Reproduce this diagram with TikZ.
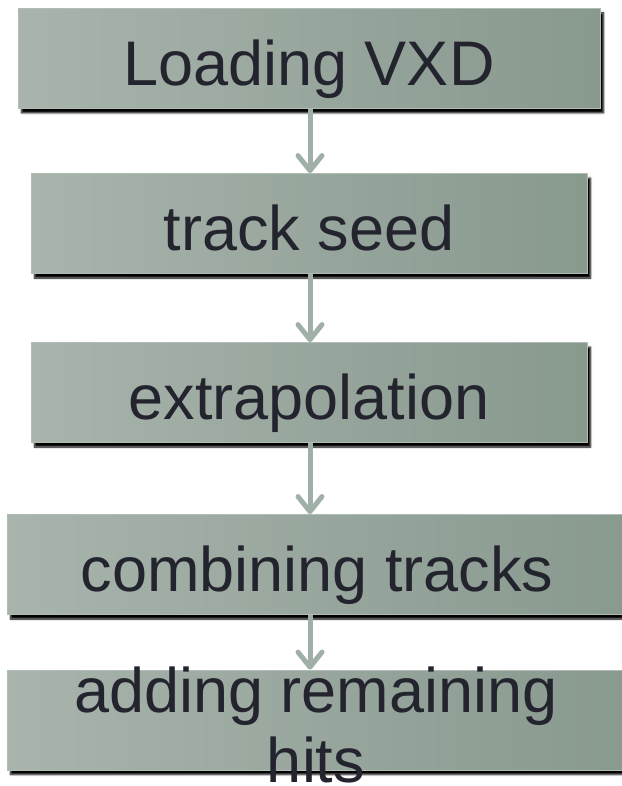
\documentclass[tikz,border=0pt]{standalone}
\usepackage{fontspec}
\setmainfont{Liberation Sans}
\usetikzlibrary{arrows.meta,shadows.blur}

\definecolor{boxL}{RGB}{168,180,172}
\definecolor{boxM}{RGB}{158,175,164}
\definecolor{boxR}{RGB}{136,153,142}
\definecolor{boxEdge}{RGB}{176,189,181}
\definecolor{flowArrow}{RGB}{160,176,168}
\definecolor{ink}{RGB}{36,36,46}

\tikzset{
  stepbox/.style={rectangle, inner sep=0pt, minimum height=100pt,
    left color=boxL, middle color=boxM, right color=boxR, shading angle=90,
    draw=boxEdge, line width=0.8pt,
    blur shadow={shadow xshift=3.5pt, shadow yshift=-4.5pt,
      shadow blur radius=1.8pt, shadow blur steps=6, shadow opacity=100}},
  steptext/.style={anchor=base, inner sep=0pt, text=ink, align=center,
    font=\fontsize{63}{70}\selectfont},
  flow/.style={draw=flowArrow, line width=5pt,
    -{Straight Barb[length=15pt,width=24pt,round]}}
}

\begin{document}
\begin{tikzpicture}[x=1pt,y=-1pt]
  \useasboundingbox (0,0) rectangle (621,786);

  % boxes of the pipeline, top to bottom
  \node[stepbox, minimum width=582pt] (b1) at (309,58.5) {};
  \node[stepbox, minimum width=556pt] (b2) at (309,223.5) {};
  \node[stepbox, minimum width=556pt] (b3) at (309,392.5) {};
  \node[stepbox, minimum width=625pt] (b4) at (319.5,564.5) {};
  \node[stepbox, minimum width=625pt] (b5) at (319.5,720) {};

  % connectors between consecutive steps
  \draw[flow] (b1.south -| 310,0) -- (b2.north -| 310,0);
  \draw[flow] (b2.south -| 310,0) -- (b3.north -| 310,0);
  \draw[flow] (b3.south -| 310,0) -- (b4.north -| 310,0);
  \draw[flow] (b4.south -| 310,0) -- (b5.north -| 310,0);

  % step captions (the last one spills below its box)
  \node[steptext] (t1) at (309,85.5) {Loading VXD};
  \node[steptext] (t2) at (309,250.5) {track seed};
  \node[steptext] (t3) at (309,419.5) {extrapolation};
  \node[steptext] (t4) at (317,591.5) {combining tracks};
  \node[steptext] (t5) at (316,782) {adding remaining\\hits};
\end{tikzpicture}
\end{document}
